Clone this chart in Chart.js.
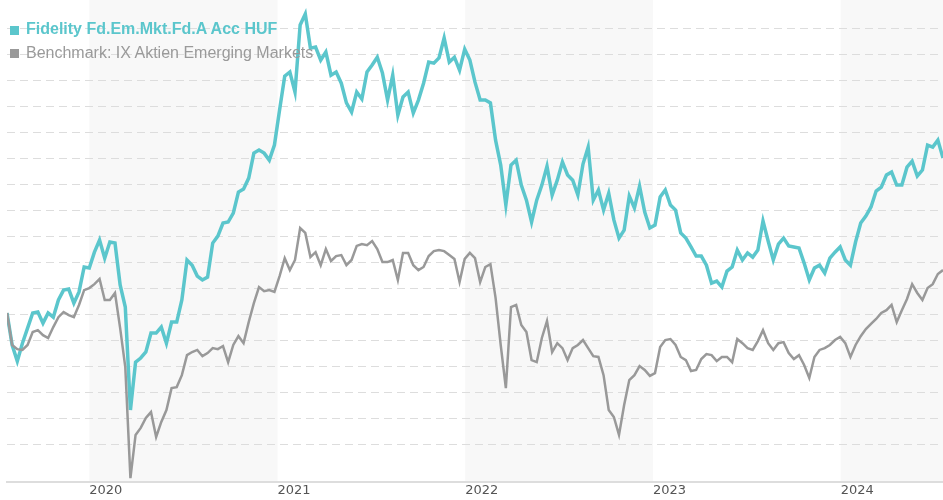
<!DOCTYPE html>
<html>
<head>
<meta charset="utf-8">
<script src="https://cdn.jsdelivr.net/npm/chart.js@4.4.1/dist/chart.umd.min.js"></script>
<style>
  html, body { margin: 0; padding: 0; background: #fff; }
  #wrap { position: relative; width: 943px; height: 500px; }
  #perfChart { position: absolute; left: 0; top: 0; }
  .legend-item { position: absolute; left: 26px; font-family: "Liberation Sans", Arial, sans-serif; font-size: 16px; line-height: 18px; white-space: nowrap; }
  .legend-box { position: absolute; left: 10px; width: 9px; height: 9px; }
</style>
</head>
<body>
<div id="wrap">
  <canvas id="perfChart" width="943" height="500"></canvas>
  <div class="legend-box" style="top:26px;background:#5bc6cc"></div>
  <div class="legend-item" style="top:20px;color:#5bc6cc;font-weight:bold">Fidelity Fd.Em.Mkt.Fd.A Acc HUF</div>
  <div class="legend-box" style="top:49px;background:#999"></div>
  <div class="legend-item" style="top:44px;color:#9a9a9a">Benchmark: IX Aktien Emerging Markets</div>
</div>
<script>
// Performance (%) des deux séries, un point tous les 10 jours
const startDate = '2019-07-25';
const stepDays = 10;

const fundLabel = 'Fidelity Fd.Em.Mkt.Fd.A Acc HUF';
const benchLabel = 'Benchmark: IX Aktien Emerging Markets';

const fundValues = [
  0.4, -11.9, -18.1, -11.2, -5.4, 0.4, 0.8, -3.5, 0.4, -1.2,
  5.4, 9.2, 9.6, 4.2, 8.5, 18.1, 17.7, 23.8, 28.5, 21.5,
  27.7, 27.3, 11.2, 2.7, -36.9, -18.5, -16.9, -14.6, -7.3, -7.3,
  -5.0, -11.2, -3.1, -3.1, 5.4, 20.8, 18.8, 14.6, 13.1, 14.2,
  27.3, 30.0, 35.0, 35.4, 38.8, 46.9, 48.1, 52.3, 61.9, 63.1,
  61.9, 59.2, 65.0, 78.5, 91.5, 93.1, 85.4, 111.2, 115.4, 102.3,
  102.7, 97.7, 100.8, 91.9, 93.1, 88.8, 81.2, 77.7, 85.4, 82.7,
  93.1, 95.8, 98.8, 92.7, 82.3, 91.9, 76.5, 83.5, 85.4, 77.3,
  82.3, 88.8, 96.9, 96.5, 98.5, 106.2, 96.9, 98.8, 93.8, 101.9,
  97.7, 89.2, 82.3, 82.3, 81.2, 66.9, 57.3, 41.9, 57.3, 59.2,
  49.6, 43.8, 35.4, 43.8, 49.6, 56.9, 45.8, 51.5, 58.5, 53.5,
  51.5, 45.8, 57.7, 64.2, 43.8, 47.7, 40.0, 46.5, 36.2, 29.2,
  32.3, 45.4, 40.8, 49.2, 39.2, 33.1, 34.2, 45.0, 47.7, 41.9,
  40.0, 31.2, 29.2, 25.8, 22.3, 22.3, 18.8, 11.9, 12.7, 10.4,
  16.5, 18.1, 24.6, 20.8, 23.5, 21.9, 24.6, 35.8, 28.1, 20.8,
  26.9, 29.2, 26.2, 25.8, 25.4, 19.6, 13.1, 17.7, 18.8, 15.8,
  21.5, 23.8, 25.8, 20.8, 18.8, 27.7, 35.0, 37.7, 41.2, 47.3,
  48.8, 53.5, 54.6, 49.6, 49.6, 56.5, 58.8, 53.1, 55.4, 65.0,
  64.2, 66.9, 60.0
];

const benchValues = [
  0.4, -11.9, -13.5, -13.8, -11.9, -6.9, -6.2, -8.1, -9.2, -5.0,
  -1.2, 0.8, -0.4, -1.2, 3.5, 9.2, 10.0, 11.5, 13.5, 5.4,
  5.4, 8.1, -5.4, -20.4, -63.1, -46.5, -43.8, -40.0, -37.7, -47.3,
  -41.5, -36.9, -28.5, -28.1, -23.5, -15.8, -14.6, -13.8, -16.2, -15.0,
  -13.1, -13.5, -12.3, -18.5, -11.9, -8.5, -11.2, -3.1, 4.2, 10.4,
  8.8, 9.2, 8.5, 14.6, 21.5, 16.9, 20.8, 33.1, 31.2, 21.9,
  23.8, 18.8, 25.0, 20.4, 22.3, 22.7, 18.8, 20.8, 26.2, 26.9,
  26.5, 28.1, 25.0, 20.0, 20.0, 20.8, 13.1, 23.5, 23.5, 18.8,
  16.9, 18.1, 22.3, 24.2, 24.6, 24.2, 22.7, 21.2, 12.3, 21.2,
  23.5, 21.5, 12.3, 18.1, 19.2, 6.2, -11.9, -28.5, 2.7, 3.5,
  -4.2, -6.9, -17.7, -18.5, -9.2, -2.7, -14.6, -11.2, -13.1, -17.7,
  -13.1, -11.9, -10.0, -13.1, -16.2, -16.5, -23.5, -36.9, -39.6, -46.5,
  -35.0, -25.4, -23.5, -20.0, -21.5, -23.8, -22.7, -12.7, -10.0, -9.6,
  -11.9, -16.5, -17.7, -21.9, -21.5, -17.3, -15.4, -15.8, -18.1, -16.5,
  -16.5, -18.5, -9.6, -11.2, -13.1, -13.8, -10.4, -6.2, -11.2, -13.8,
  -11.2, -10.8, -15.0, -17.3, -15.8, -19.6, -24.6, -16.5, -13.8, -13.1,
  -11.9, -10.0, -8.8, -11.2, -16.5, -11.9, -8.5, -5.8, -3.8, -1.9,
  0.4, 1.5, 3.5, -3.1, 1.5, 5.8, 11.5, 8.1, 5.4, 10.0,
  11.5, 15.4, 16.9
];

const yearTicks = [2020, 2021, 2022, 2023, 2024];
const shadedYears = [2020, 2022, 2024];

const DAY = 86400000;
const dayNumber = (y, m, d) => Date.UTC(y, m, d) / DAY;
const startDay = Date.parse(startDate) / DAY;
const days = fundValues.map((v, i) => startDay + i * stepDays);

const toPoints = vals => vals.map((v, i) => ({ x: days[i], y: v }));

// Bandes grises une année sur deux
const yearBands = {
  id: 'yearBands',
  beforeDraw(chart) {
    const { ctx, chartArea, scales: { x } } = chart;
    ctx.save();
    ctx.fillStyle = '#f8f8f8';
    shadedYears.forEach(y => {
      const x0 = Math.max(x.getPixelForValue(dayNumber(y, 0, 1)), chartArea.left);
      const x1 = Math.min(x.getPixelForValue(dayNumber(y + 1, 0, 1)), chartArea.right);
      if (x1 > x0) ctx.fillRect(x0, 0, x1 - x0, chartArea.bottom);
    });
    ctx.restore();
  }
};

const config = {
  type: 'line',
  data: {
    datasets: [{
      label: fundLabel,
      data: toPoints(fundValues),
      borderColor: '#5bc6cc',
      borderWidth: 3.5,
      pointRadius: 0,
      tension: 0,
      order: 1
    }, {
      label: benchLabel,
      data: toPoints(benchValues),
      borderColor: '#999999',
      borderWidth: 2.5,
      pointRadius: 0,
      tension: 0,
      order: 0
    }]
  },
  options: {
    responsive: false,
    animation: false,
    layout: { padding: { left: 7, right: 0, top: 0, bottom: 0 } },
    plugins: {
      legend: { display: false },
      tooltip: { enabled: false }
    },
    scales: {
      x: {
        type: 'linear',
        min: days[0],
        max: days[days.length - 1],
        afterBuildTicks: axis => { axis.ticks = yearTicks.map(y => ({ value: dayNumber(y, 0, 1) })); },
        afterFit: axis => { axis.height = 18; },
        grid: { display: false },
        border: { display: true, color: '#dddddd', width: 2 },
        ticks: {
          align: 'start',
          padding: -7,
          maxRotation: 0,
          autoSkip: false,
          color: '#555',
          font: { family: 'DejaVu Sans', size: 13 },
          callback: v => new Date(v * DAY).getUTCFullYear()
        }
      },
      y: {
        min: -64.6,
        max: 120.8,
        afterBuildTicks: axis => {
          axis.ticks = axis.ticks.filter(t => Math.abs(t.value % 10) < 1e-6 && t.value >= -60 && t.value <= 110);
        },
        afterFit: axis => { axis.width = 0; },
        ticks: { display: false, stepSize: 10 },
        grid: { color: '#dddddd', lineWidth: 1, drawTicks: false },
        border: { display: false, dash: [8, 5] }
      }
    }
  },
  plugins: [yearBands]
};

const perfChart = new Chart(document.getElementById('perfChart'), config);
</script>
</body>
</html>
